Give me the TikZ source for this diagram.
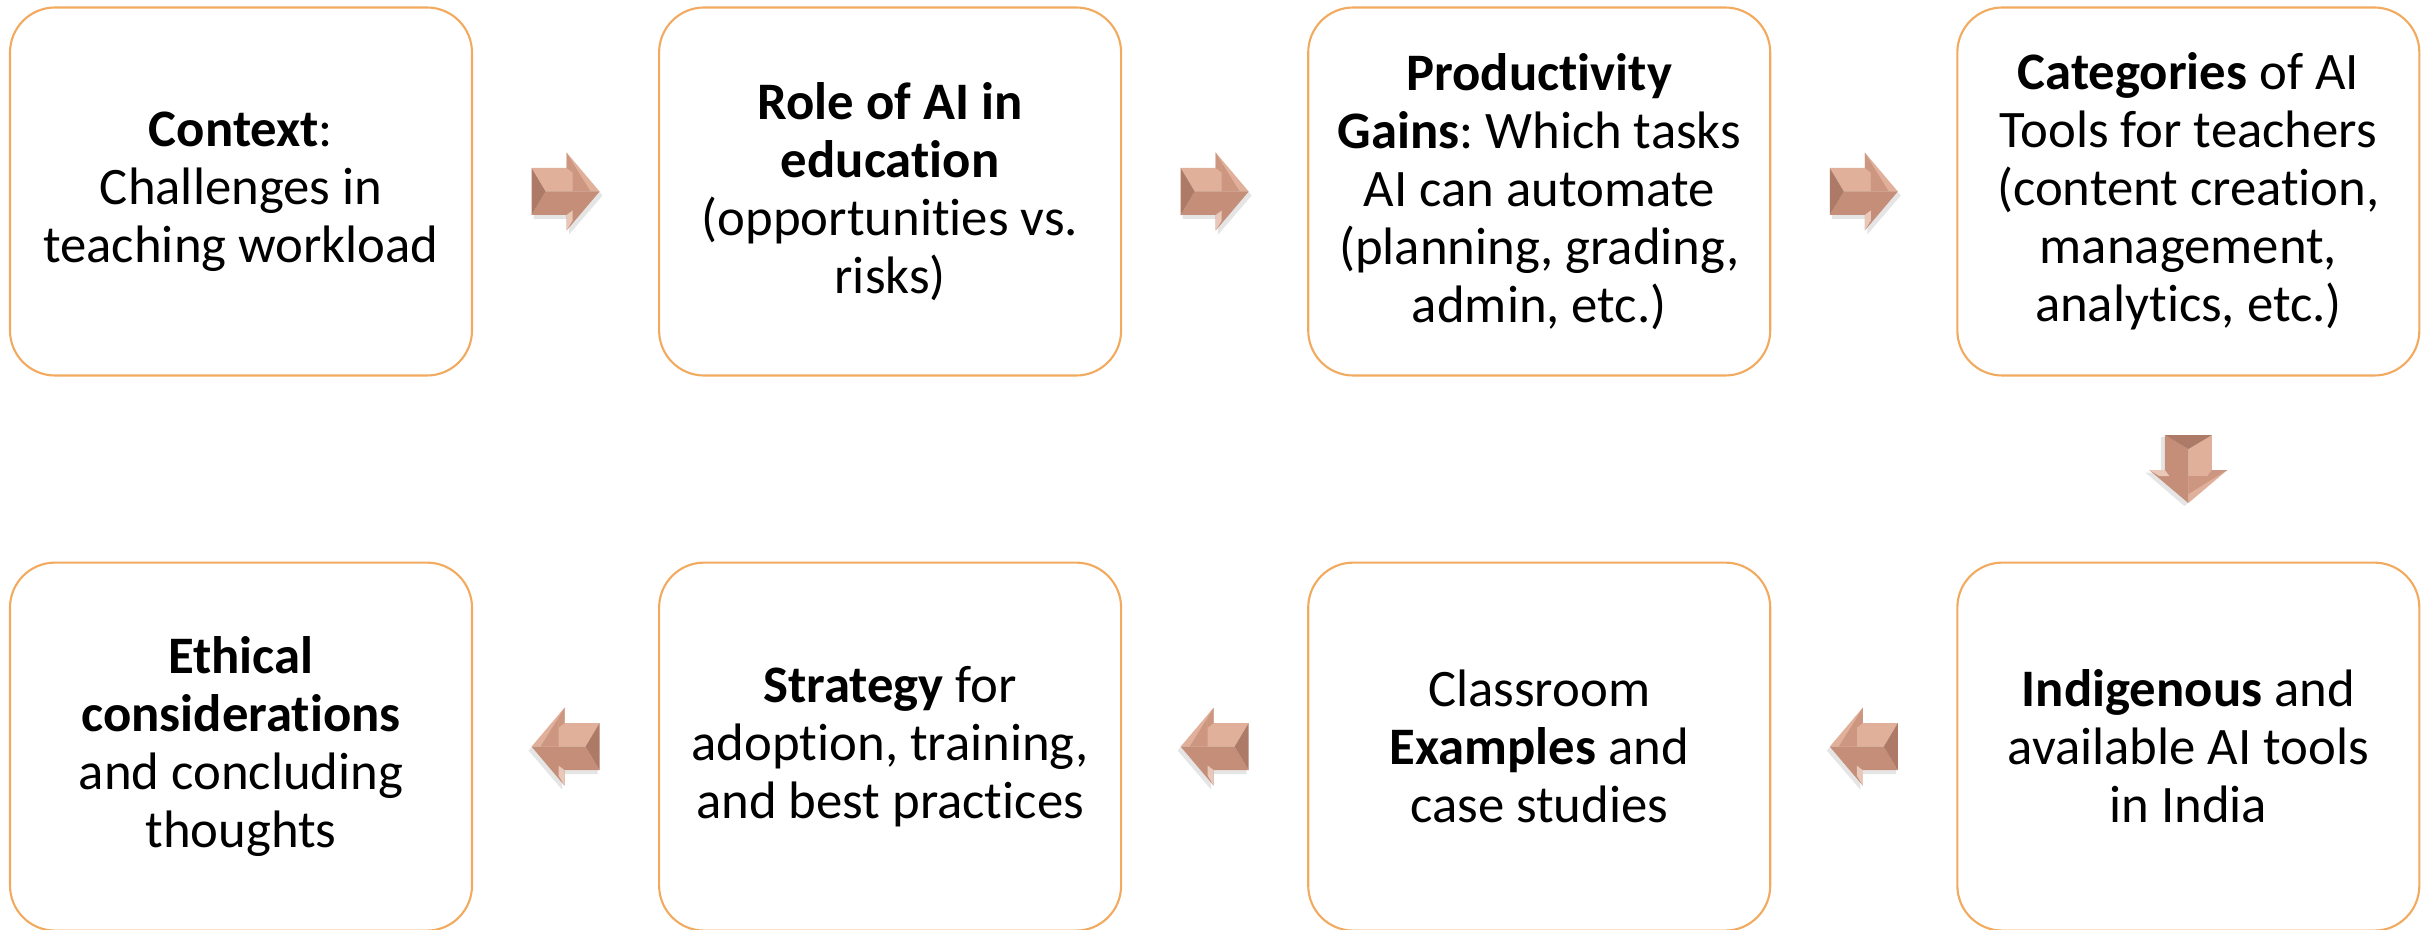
\documentclass[tikz,border=0pt]{standalone}
\usepackage{fontspec}
\setmainfont{Carlito}[Ligatures=NoCommon]
\usetikzlibrary{positioning}
\usetikzlibrary{calc}

\definecolor{boxline}{RGB}{242,170,95}
\definecolor{arrowmid}{RGB}{205,150,128}
\definecolor{arrowlight}{RGB}{224,176,155}
\definecolor{arrowdark}{RGB}{172,122,102}
\definecolor{arrowshade}{RGB}{196,142,120}

\tikzset{
	topic/.style={draw=boxline, line width=0.6pt, rounded corners=4.5mm, minimum width=46.2mm, minimum height=36.8mm, align=center, inner sep=0pt, font=\fontsize{15}{16.5}\selectfont},
	bevelarrow/.pic={
		\fill[black, opacity=0.1] (-3.2,2.0) -- (0.35,2.0) -- (0.35,3.55) -- (3.7,-0.4) -- (0.35,-4.3) -- (0.35,-2.75) -- (-3.2,-2.75) -- cycle;
		\fill[arrowlight] (-3.4,2.35) -- (0.1,2.35) -- (0.1,3.9) -- (3.4,0) -- (-2.0,0) -- cycle;
		\fill[arrowshade] (-3.4,-2.35) -- (0.1,-2.35) -- (0.1,-3.9) -- (3.4,0) -- (-2.0,0) -- cycle;
		\fill[arrowdark] (-3.4,2.35) -- (-2.0,0) -- (-3.4,-2.35) -- cycle;
		\fill[arrowmid] (0.1,2.35) -- (0.1,3.9) -- (0.7,2.9) -- (0.7,1.9) -- cycle;
		\fill[arrowlight!70!white] (0.1,-2.35) -- (0.1,-3.9) -- (0.7,-2.9) -- (0.7,-1.9) -- cycle;
		\fill[arrowmid] (0.7,2.9) -- (2.5,0) -- (0.7,0) -- cycle;
	}
}

\begin{document}
\frenchspacing
\begin{tikzpicture}[x=1mm, y=1mm, node distance=18.5mm]
	\useasboundingbox (0,0) rectangle (242.8,-93);
	\node[topic] (context) at (24.1,-19.15) {\textbf{Context}:\\Challenges in\\teaching workload};
	\node[topic, right=of context] (role) {\textbf{Role of AI in}\\\textbf{education}\\(opportunities vs.\\risks)};
	\node[topic, right=of role] (gains) {\textbf{Productivity}\\\textbf{Gains}: Which tasks\\AI can automate\\(planning, grading,\\admin, etc.)};
	\node[topic, right=of gains] (categories) {\textbf{Categories} of AI\\Tools for teachers\\(content creation,\\management,\\analytics, etc.)};
	\node[topic, below=of categories] (indigenous) {\textbf{Indigenous} and\\available AI tools\\in India};
	\node[topic, left=of indigenous] (examples) {Classroom\\\textbf{Examples} and\\case studies};
	\node[topic, left=of examples] (strategy) {\textbf{Strategy} for\\adoption, training,\\and best practices};
	\node[topic, left=of strategy] (ethics) {\textbf{Ethical}\\\textbf{considerations}\\and concluding\\thoughts};
	\pic at ($(context.east)!0.5!(role.west)$) {bevelarrow};
	\pic at ($(role.east)!0.5!(gains.west)$) {bevelarrow};
	\pic at ($(gains.east)!0.5!(categories.west)$) {bevelarrow};
	\pic[rotate=-90] at ($(categories.south)!0.5!(indigenous.north)$) {bevelarrow};
	\pic[xscale=-1] at ($(indigenous.west)!0.5!(examples.east)$) {bevelarrow};
	\pic[xscale=-1] at ($(examples.west)!0.5!(strategy.east)$) {bevelarrow};
	\pic[xscale=-1] at ($(strategy.west)!0.5!(ethics.east)$) {bevelarrow};
\end{tikzpicture}
\end{document}
